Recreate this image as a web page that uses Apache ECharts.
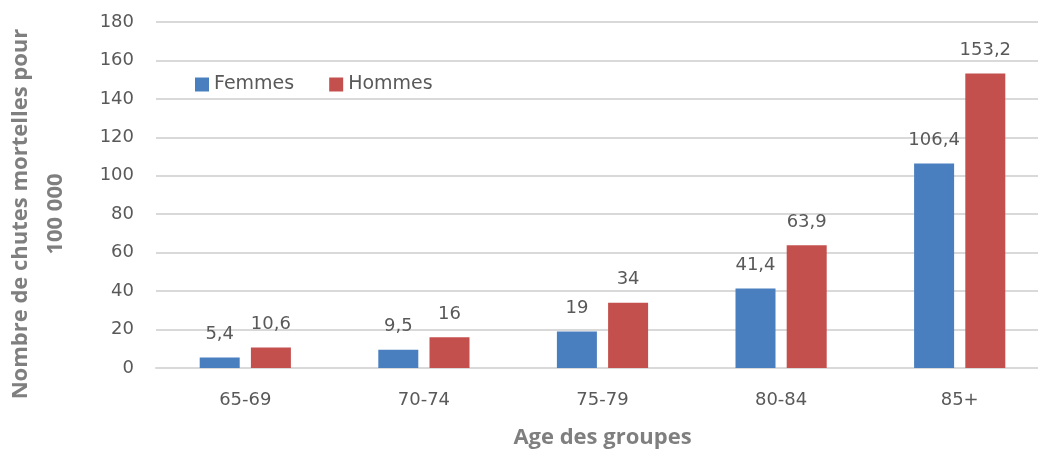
<!DOCTYPE html>
<html>
<head>
<meta charset="utf-8">
<script src="https://cdn.jsdelivr.net/npm/echarts@6/dist/echarts.min.js"></script>
<style>
  html, body { margin: 0; padding: 0; background: #fff; }
  #chart { width: 1038px; height: 450px; }
</style>
</head>
<body>
<div id="chart"></div>
<script>
// tranches d'âge
const ageGroups = ['65-69', '70-74', '75-79', '80-84', '85+'];
// chutes mortelles pour 100 000
const femmes = [5.4, 9.5, 19, 41.4, 106.4];
const hommes = [10.6, 16, 34, 63.9, 153.2];
const yTicks = { min: 0, max: 180, interval: 20 };

const font = '"DejaVu Sans", sans-serif';
const boldFont = '"Open Sans", "Noto Sans", sans-serif';
const grey = '#595959';

// étiquettes à la française (virgule décimale)
const frLabel = p => String(p.value).replace('.', ',');

const chart = echarts.init(document.getElementById('chart'));

chart.setOption({
  animation: false,
  textStyle: { fontFamily: font },
  grid: { left: 156, right: -11, top: 22, bottom: 82, outerBoundsMode: 'none', containLabel: false },
  legend: {
    left: 190,
    top: 70,
    itemWidth: 14,
    itemHeight: 14,
    itemGap: 35,
    icon: 'rect',
    textStyle: { fontSize: 19, color: grey, fontFamily: font }
  },
  xAxis: {
    type: 'category',
    data: ageGroups,
    name: 'Age des groupes',
    nameLocation: 'middle',
    nameGap: 59,
    nameTextStyle: { fontSize: 22, fontWeight: 'bold', color: '#7f7f7f', fontFamily: boldFont },
    axisLine: { lineStyle: { color: '#d9d9d9', width: 2 } },
    axisTick: { show: false },
    axisLabel: { fontSize: 18, color: grey, margin: 23, fontFamily: font }
  },
  yAxis: {
    type: 'value',
    min: yTicks.min,
    max: yTicks.max,
    interval: yTicks.interval,
    name: 'Nombre de chutes mortelles pour\n100 000',
    nameLocation: 'middle',
    nameRotate: 90,
    nameGap: 83,
    nameTextStyle: { fontSize: 22, fontWeight: 'bold', color: '#7f7f7f', lineHeight: 35, fontFamily: boldFont, padding: [0, 38, 0, 0] },
    axisLine: { show: false },
    axisTick: { show: false },
    axisLabel: { fontSize: 18, color: grey, margin: 22, fontFamily: font },
    splitLine: { lineStyle: { color: '#d9d9d9', width: 2 } }
  },
  series: [
    {
      name: 'Femmes',
      type: 'bar',
      data: femmes,
      barWidth: 40,
      barGap: '28%',
      itemStyle: { color: '#4A7FBF' },
      label: { show: true, position: 'top', distance: 14, fontSize: 18, color: grey, fontFamily: font, formatter: frLabel }
    },
    {
      name: 'Hommes',
      type: 'bar',
      data: hommes,
      barWidth: 40,
      itemStyle: { color: '#C4504E' },
      label: { show: true, position: 'top', distance: 14, fontSize: 18, color: grey, fontFamily: font, formatter: frLabel }
    }
  ]
});
</script>
</body>
</html>
